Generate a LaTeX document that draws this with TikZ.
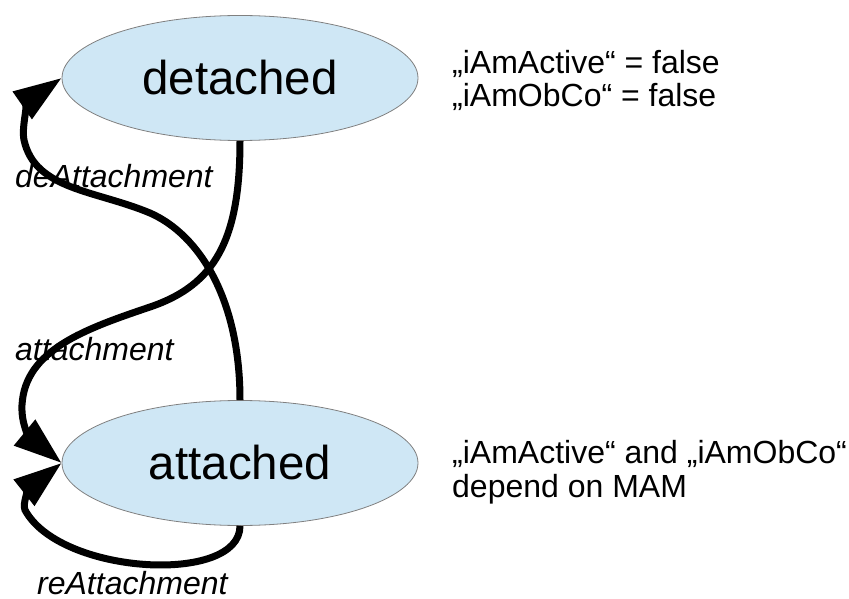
\documentclass[tikz,border=0pt]{standalone}
\usepackage{fontspec}
\setmainfont{Liberation Sans}
\usetikzlibrary{arrows.meta,shapes.geometric}
\definecolor{statefill}{RGB}{207,231,245}
\definecolor{stateline}{RGB}{128,128,128}
\tikzset{
  state/.style={ellipse, draw=stateline, line width=0.8pt, fill=statefill,
    minimum width=356pt, minimum height=125pt, inner sep=0pt,
    font=\fontsize{47.5}{56}\selectfont},
  note/.style={anchor=base west, align=left, inner sep=0pt,
    font=\fontsize{32}{33.5}\selectfont},
  trans/.style={line width=7pt, -{Triangle[length=48pt,width=32pt]}},
  tlabel/.style={anchor=base west, inner sep=0pt,
    font=\fontsize{32}{38}\selectfont\itshape}
}
\begin{document}
\begin{tikzpicture}[x=1pt,y=-1pt]
\useasboundingbox (0,0) rectangle (849,599);
\node[state] (d) at (240,78) {detached};
\node[state] (a) at (240,463) {attached};
\node[note] (n1) at (452,107) {„iAmActive“ = false\\„iAmObCo“ = false};
\node[note] (n2) at (452,497) {„iAmActive“ and „iAmObCo“\\depend on MAM};
% deAttachment
\draw[trans] (a.north) .. controls (240,300) and (200,235) .. (150,213)
  .. controls (95,190) and (35,190) .. (24,140)
  .. controls (21,126) and (30,100) .. (d.west);
% attachment
\draw[trans] (d.south) .. controls (240,240) and (215,285) .. (150,307)
  .. controls (85,329) and (25,350) .. (22,405)
  .. controls (21,425) and (30,437) .. (a.west);
% reAttachment
\draw[trans] (a.south) .. controls (240,585) and (60,575) .. (25,510)
  .. controls (22,503) and (30,488) .. (a.west);
\node[tlabel] (l1) at (15,187) {deAttachment};
\node[tlabel] (l2) at (15,360) {attachment};
\node[tlabel] (l3) at (37,594) {reAttachment};
\end{tikzpicture}
\end{document}
